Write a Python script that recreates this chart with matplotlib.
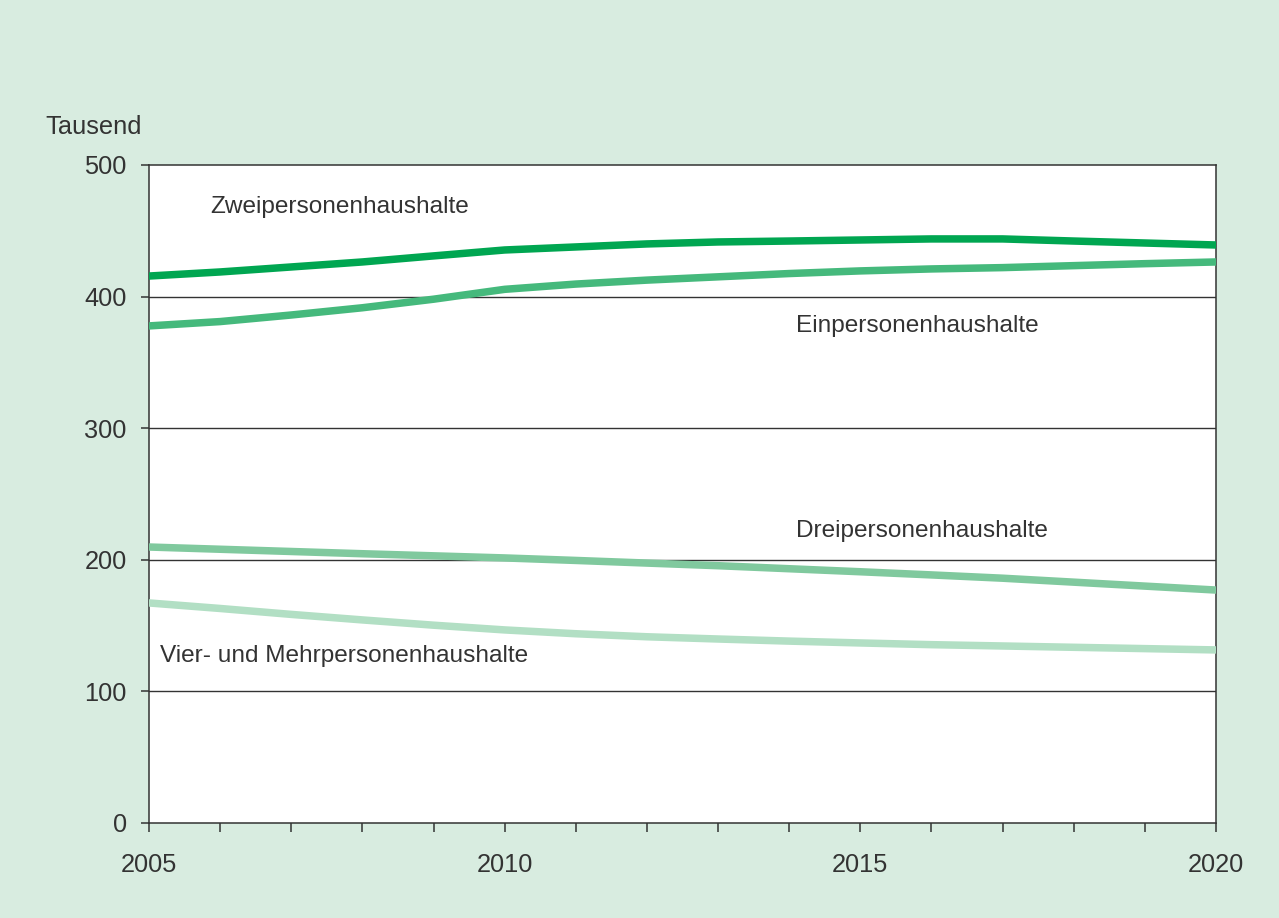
#!/usr/bin/env python3

import matplotlib.pyplot as plt

years = list(range(2005, 2021))
zwei = [415.6, 418.7, 422.5, 426.3, 430.9, 435.4, 437.7, 440.0, 441.5, 442.2,
        443.0, 443.8, 443.8, 442.2, 440.7, 439.2]
ein = [377.7, 381.0, 386.0, 391.5, 398.0, 405.5, 409.5, 412.5, 415.0, 417.5,
       419.5, 421.0, 422.0, 423.5, 425.0, 426.3]
drei = [209.7, 208.0, 206.3, 204.6, 203.0, 201.4, 199.5, 197.5, 195.5, 193.2,
        190.9, 188.5, 186.0, 183.0, 180.0, 177.0]
vier = [167.2, 163.0, 158.5, 154.3, 150.3, 146.7, 143.8, 141.5, 139.8, 138.2,
        136.8, 135.5, 134.5, 133.5, 132.5, 131.5]

series_names = ['Zweipersonenhaushalte', 'Einpersonenhaushalte',
                'Dreipersonenhaushalte', 'Vier- und Mehrpersonenhaushalte']
y_ticks = [0, 100, 200, 300, 400, 500]
x_labels = [2005, 2010, 2015, 2020]

bg = '#d8ece0'
text_col = '#333333'
plt.rcParams['font.family'] = ['Liberation Sans', 'DejaVu Sans']

fig = plt.figure(figsize=(12.79, 9.18), dpi=100)
fig.patch.set_facecolor(bg)
ax = fig.add_axes([0.1165, 0.1035, 0.8342, 0.7168])
ax.set_facecolor('white')

colors = ['#00a651', '#45b97c', '#80c99e', '#b2dfc4']
for vals, c in zip([zwei, ein, drei, vier], colors):
    ax.plot(years, vals, color=c, lw=5.4, solid_capstyle='round',
            solid_joinstyle='round', zorder=3)

ax.set_xlim(2005, 2020)
ax.set_ylim(0, 500)
ax.set_yticks(y_ticks)
ax.set_xticks(years)
ax.set_xticklabels([str(y) if y in x_labels else '' for y in years])
for y in y_ticks[1:-1]:
    ax.axhline(y, color=text_col, lw=1, zorder=1)

for s in ax.spines.values():
    s.set_color(text_col)
    s.set_linewidth(1.1)

ax.tick_params(axis='y', length=6, width=1.1, color=text_col, pad=10,
               labelsize=18.3, labelcolor=text_col)
ax.tick_params(axis='x', length=6.5, width=1.1, color=text_col, pad=15,
               labelsize=18.3, labelcolor=text_col)

label_pos = [(2005.86, 468), (2014.1, 377.7), (2014.1, 221.9), (2005.15, 126.9)]
for name, (x, y) in zip(series_names, label_pos):
    ax.text(x, y, name, fontsize=17.6, color=text_col, va='center', ha='left')

fig.text(45 / 1279, 1 - 127 / 918, 'Tausend', fontsize=18.3, color=text_col,
         va='center', ha='left')

plt.savefig('out.png', dpi=100, facecolor=bg)
plt.close()
